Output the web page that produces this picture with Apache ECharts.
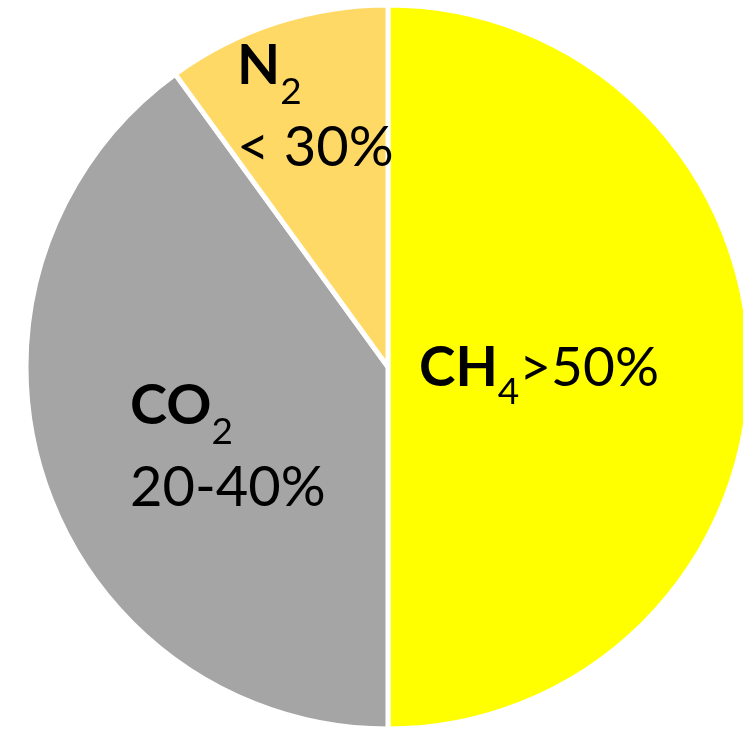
<!DOCTYPE html>
<html>
<head>
<meta charset="utf-8">
<script src="https://cdn.jsdelivr.net/npm/echarts@6/dist/echarts.min.js"></script>
<style>
  html, body { margin: 0; padding: 0; background: #ffffff; }
  #chart { width: 743px; height: 731px; }
</style>
</head>
<body>
<div id="chart"></div>
<script>
// Biogas composition
const gases = ['CH4', 'CO2', 'N2'];
const formulaMain = ['CH', 'CO', 'N'];
const formulaSub = ['4', '2', '2'];
const shareText = ['>50%', '20-40%', '< 30%'];
const shares = [50, 40, 10];
const sliceColors = ['#FFFF00', '#A5A5A5', '#FFD966'];

// label anchor (top-left) per slice, in pixels
const labelPos = [
  { x: 419, y: 341 },
  { x: 130, y: 378 },
  { x: 237, y: 38 }
];

const chart = echarts.init(document.getElementById('chart'), null, { renderer: 'canvas' });

const data = gases.map((g, i) => ({
  name: g,
  value: shares[i],
  itemStyle: { color: sliceColors[i] },
  label: i === 0
    ? { formatter: '{b|' + formulaMain[i] + '}{s|' + formulaSub[i] + '}{r|' + shareText[i] + '}' }
    : { formatter: '{B|' + formulaMain[i] + '}{S|' + formulaSub[i] + '}\n{R|' + shareText[i] + '}' }
}));

const txt = { fontFamily: 'Lato', color: '#000', verticalAlign: 'top' };

chart.setOption({
  animation: false,
  backgroundColor: '#ffffff',
  series: [{
    type: 'pie',
    center: [388, 367],
    radius: [0, 362],
    startAngle: 90,
    clockwise: true,
    avoidLabelOverlap: false,
    silent: true,
    itemStyle: { borderColor: '#ffffff', borderWidth: 5 },
    label: {
      show: true,
      position: 'inside',
      color: '#000000',
      fontFamily: 'Lato',
      rich: {
        // single-line label (CH4)
        b: Object.assign({ fontWeight: 'bold', fontSize: 55, lineHeight: 76 }, txt),
        s: Object.assign({ fontSize: 37, lineHeight: 76, padding: [33, 0, 0, 0] }, txt),
        r: Object.assign({ fontSize: 55, lineHeight: 76 }, txt),
        // two-line labels (CO2, N2)
        B: Object.assign({ fontWeight: 'bold', fontSize: 56, lineHeight: 82 }, txt),
        S: Object.assign({ fontSize: 37, lineHeight: 82, padding: [36, 0, 0, 0] }, txt),
        R: Object.assign({ fontSize: 56, lineHeight: 76 }, txt)
      }
    },
    labelLine: { show: false },
    labelLayout: function (params) {
      const p = labelPos[params.dataIndex];
      return { x: p.x, y: p.y, align: 'left', verticalAlign: 'top' };
    },
    data: data
  }]
});
</script>
</body>
</html>
